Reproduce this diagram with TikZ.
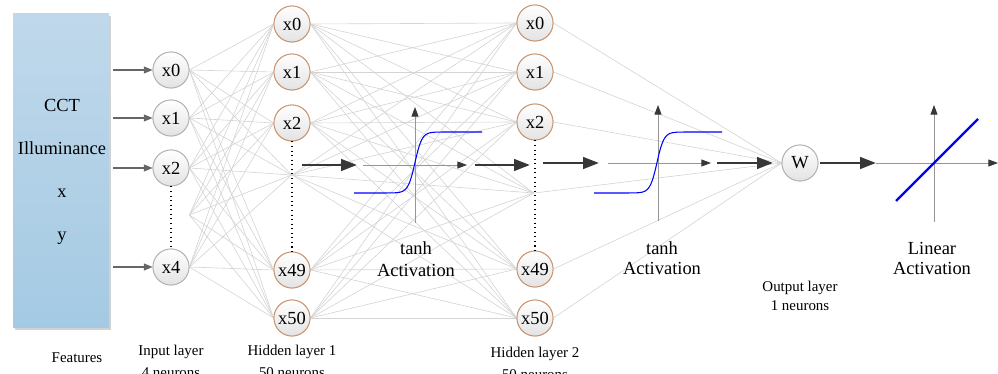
\documentclass[tikz,border=0pt]{standalone}
\usepackage{fontspec}
\setmainfont{Liberation Serif}
\usetikzlibrary{arrows.meta}
\definecolor{boxtop}{RGB}{192,216,235}
\definecolor{boxbot}{RGB}{164,202,227}
\definecolor{hidborder}{RGB}{200,146,108}
\definecolor{connc}{RGB}{212,212,212}
\definecolor{darkarr}{RGB}{55,55,55}
\definecolor{axisc}{RGB}{150,150,150}
\begin{document}
\begin{tikzpicture}[x=0.02cm,y=-0.02cm,
  neuron/.style={circle, minimum size=0.72cm, inner sep=0pt, draw=gray!60, line width=0.5pt,
    top color=white, bottom color=gray!22, font=\fontsize{10.5}{12}\selectfont},
  hneuron/.style={neuron, draw=hidborder},
  midpt/.style={inner sep=0pt, minimum size=0pt},
  connline/.style={draw=connc, line width=0.35pt},
  feedarrow/.style={draw=gray!80!black, line width=0.6pt, -{Triangle[length=5pt,width=4pt]}},
  bigarrow/.style={draw=darkarr, line width=1.6pt, -{Triangle[length=9pt,width=6.5pt]}},
  axisline/.style={draw=axisc, line width=0.5pt, -{Triangle[length=5.5pt,width=4pt,fill=darkarr,color=darkarr]}},
  dotline/.style={draw=black, dotted, line width=0.6pt},
  boxtext/.style={font=\fontsize{10.5}{12}\selectfont, anchor=base, inner sep=0pt},
  acttext/.style={font=\fontsize{10.5}{12}\selectfont, inner sep=0pt},
  laytext/.style={font=\fontsize{8.5}{10}\selectfont, inner sep=0pt},
  curve/.style={draw=blue, line width=0.6pt}
]
\useasboundingbox (0,0) rectangle (998,374);

% feature box
\fill[gray!35] (15,16) rectangle (111,330);
\shade[top color=boxtop, bottom color=boxbot] (13,14) rectangle (109,328);
\node[boxtext] (tcct) at (62,112) {CCT};
\node[boxtext] (till) at (62,155) {Illuminance};
\node[boxtext] (tx) at (62,198) {x};
\node[boxtext] (ty) at (62,241) {y};

% input layer
\node[neuron] (i0) at (171,70) {x0};
\node[neuron] (i1) at (171,118) {x1};
\node[neuron] (i2) at (171,168) {x2};
\node[neuron] (i4) at (171,267) {x4};
\node[midpt] (im) at (189,215) {};

% hidden layer 1
\node[hneuron] (h0) at (292,24) {x0};
\node[hneuron] (h1) at (292,72) {x1};
\node[hneuron] (h2) at (292,123) {x2};
\node[hneuron] (h49) at (292,270) {x49};
\node[hneuron] (h50) at (292,318) {x50};
\node[midpt] (hm) at (292,175) {};

% hidden layer 2
\node[hneuron] (g0) at (535,23) {x0};
\node[hneuron] (g1) at (535,72) {x1};
\node[hneuron] (g2) at (535,122) {x2};
\node[hneuron] (g49) at (535,269) {x49};
\node[hneuron] (g50) at (535,318) {x50};
\node[midpt] (gm) at (534,193) {};

% output
\node[neuron] (w) at (800,163) {W};

% connections
\begin{scope}[on background layer/.style={}]
\foreach \a in {i0,i1,i2,im,i4}
  \foreach \b in {h0,h1,h2,hm,h49,h50}
    \draw[connline] (\a.east) -- (\b.west);
\foreach \a in {h0,h1,h2,hm,h49,h50}
  \foreach \b in {g0,g1,g2,gm,g49,g50}
    \draw[connline] (\a.east) -- (\b.west);
\foreach \a in {g0,g1,g2,gm,g49,g50}
  \draw[connline] (\a.east) -- (w.west);
\end{scope}

% redraw nodes on top of lines
\node[neuron] at (i0) {x0};
\node[neuron] at (i1) {x1};
\node[neuron] at (i2) {x2};
\node[neuron] at (i4) {x4};
\node[hneuron] at (h0) {x0};
\node[hneuron] at (h1) {x1};
\node[hneuron] at (h2) {x2};
\node[hneuron] at (h49) {x49};
\node[hneuron] at (h50) {x50};
\node[hneuron] at (g0) {x0};
\node[hneuron] at (g1) {x1};
\node[hneuron] at (g2) {x2};
\node[hneuron] at (g49) {x49};
\node[hneuron] at (g50) {x50};
\node[neuron] at (w) {W};

% dotted
\draw[dotline] (i2.south) -- (i4.north);
\draw[dotline] (h2.south) -- (h49.north);
\draw[dotline] (g2.south) -- (g49.north);

% feature arrows
\coordinate (f0) at (113,70);
\coordinate (f1) at (113,118);
\coordinate (f2) at (113,168);
\coordinate (f4) at (113,267);
\draw[feedarrow] (f0) -- (i0);
\draw[feedarrow] (f1) -- (i1);
\draw[feedarrow] (f2) -- (i2);
\draw[feedarrow] (f4) -- (i4);

% big arrows
\coordinate (a1s) at (302,165); \coordinate (a1e) at (357,165);
\coordinate (a2s) at (475,165); \coordinate (a2e) at (530,165);
\coordinate (a3s) at (543,163); \coordinate (a3e) at (599,163);
\coordinate (a4s) at (717,163); \coordinate (a4e) at (773,163);
\coordinate (a5s) at (820,163); \coordinate (a5e) at (876,163);
\draw[bigarrow] (a1s) -- (a1e);
\draw[bigarrow] (a2s) -- (a2e);
\draw[bigarrow] (a3s) -- (a3e);
\draw[bigarrow] (a4s) -- (a4e);
\draw[bigarrow] (a5s) -- (a5e);

% activation 1
\coordinate (p1l) at (363,165); \coordinate (p1r) at (467,165);
\coordinate (p1b) at (415,223); \coordinate (p1t) at (415,107);
\draw[axisline] (p1l) -- (p1r);
\draw[axisline] (p1b) -- (p1t);
\draw[curve] plot[domain=-61:67, samples=120, smooth] ({415+\x}, {162.5-30.5*tanh(\x/7)});
\node[acttext] (t1a) at (416,248) {tanh};
\node[acttext] (t1b) at (416,270) {Activation};

% activation 2
\coordinate (p2l) at (608,163); \coordinate (p2r) at (711,163);
\coordinate (p2b) at (658,221); \coordinate (p2t) at (658,105);
\draw[axisline] (p2l) -- (p2r);
\draw[axisline] (p2b) -- (p2t);
\draw[curve] plot[domain=-63:65, samples=120, smooth] ({657+\x}, {162.5-30.5*tanh(\x/7)});
\node[acttext] (t2a) at (662,248) {tanh};
\node[acttext] (t2b) at (662,268) {Activation};

% activation 3
\coordinate (p3l) at (876,163); \coordinate (p3r) at (998,163);
\coordinate (p3b) at (934,222); \coordinate (p3t) at (934,105);
\draw[axisline] (p3l) -- (p3r);
\draw[axisline] (p3b) -- (p3t);
\coordinate (l3a) at (896,201); \coordinate (l3b) at (978,119);
\draw[draw=blue, line width=1.4pt] (l3a) -- (l3b);
\node[acttext] (t3a) at (932,248) {Linear};
\node[acttext] (t3b) at (932,268) {Activation};

% layer labels
\node[laytext] (lo1) at (800,288) {Output layer};
\node[laytext] (lo2) at (800,306) {1 neurons};
\node[laytext] (lf) at (77,358) {Features};
\node[laytext] (li1) at (171,352) {Input layer};
\node[laytext] (li2) at (171,373) {4 neurons};
\node[laytext] (lh1) at (292,352) {Hidden layer 1};
\node[laytext] (lh2) at (292,373) {50 neurons};
\node[laytext] (lg1) at (535,354) {Hidden layer 2};
\node[laytext] (lg2) at (535,375) {50 neurons};
\end{tikzpicture}
\end{document}
